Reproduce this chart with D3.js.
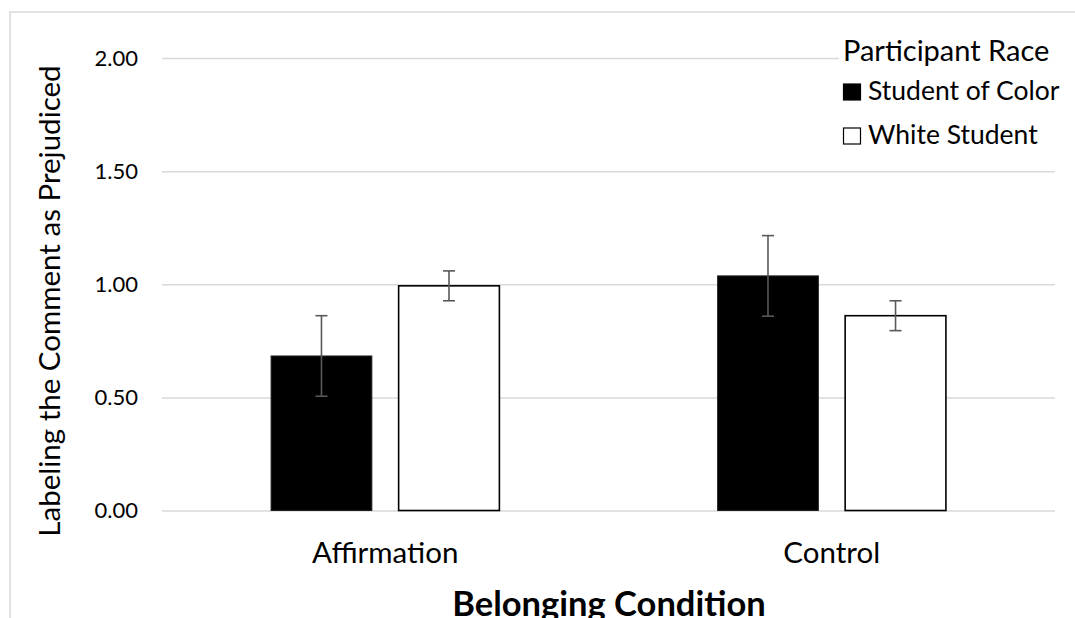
<!DOCTYPE html>
<html>
<head>
<meta charset="utf-8">
<script src="https://cdn.jsdelivr.net/npm/d3@7"></script>
<style>
  body { margin: 0; background: #fff; }
  svg { display: block; font-family: Lato, "Open Sans", sans-serif; }
</style>
</head>
<body>
<svg width="1075" height="618"></svg>
<script>
var categories = ["Affirmation", "Control"];
var seriesNames = ["Student of Color", "White Student"];
var colorMeans = [0.683, 1.037];
var colorErrors = [0.178, 0.178];
var whiteMeans = [0.993, 0.861];
var whiteErrors = [0.066, 0.066];
var yTicks = [0, 0.5, 1, 1.5, 2];

var rows = categories.map(function (c, i) {
  return {
    cat: c,
    vals: [
      {series: seriesNames[0], mean: colorMeans[i], err: colorErrors[i]},
      {series: seriesNames[1], mean: whiteMeans[i], err: whiteErrors[i]}
    ]
  };
});

var svg = d3.select("svg"),
    plotLeft = 162, plotRight = 1055, plotTop = 58, plotBottom = 510.5;

// outer frame (only top/left visible in the crop)
svg.append("rect")
    .attr("x", 10).attr("y", 12)
    .attr("width", 1100).attr("height", 700)
    .attr("fill", "none")
    .attr("stroke", "#d9d9d9")
    .attr("stroke-width", 1.5);

var x0 = d3.scaleBand().domain(categories).range([plotLeft, plotRight])
    .paddingInner(0.4887).paddingOuter(0.2443);
var x1 = d3.scaleBand().domain(seriesNames).range([0, x0.bandwidth()])
    .paddingInner(0.21);
var y = d3.scaleLinear().domain([0, 2]).range([plotBottom, plotTop]);
var fill = d3.scaleOrdinal().domain(seriesNames).range(["#000", "#fff"]);

// y axis + gridlines
var yAxis = svg.append("g")
    .attr("transform", "translate(" + plotLeft + ",0)")
    .call(d3.axisLeft(y).tickValues(yTicks)
      .tickSize(-(plotRight - plotLeft)).tickPadding(24)
      .tickFormat(d3.format(".2f")));
yAxis.select(".domain").remove();
yAxis.selectAll("line").attr("stroke", "#d9d9d9").attr("stroke-width", 1.5);
yAxis.selectAll("text")
    .attr("fill", "#000")
    .style("font-family", "Lato, sans-serif")
    .style("font-size", "22px");

// x axis labels
var xAxis = svg.append("g")
    .attr("transform", "translate(0," + plotBottom + ")")
    .call(d3.axisBottom(x0).tickSize(0).tickPadding(0));
xAxis.select(".domain").remove();
xAxis.selectAll("text")
    .attr("y", 52).attr("dy", 0)
    .attr("fill", "#000")
    .style("font-family", "Lato, sans-serif")
    .style("font-size", "29.5px");

// bars
var groups = svg.selectAll(".grp")
  .data(rows)
  .enter().append("g")
    .attr("class", "grp")
    .attr("transform", function (d) { return "translate(" + x0(d.cat) + ",0)"; });

groups.selectAll("rect")
  .data(function (d) { return d.vals; })
  .enter().append("rect")
    .attr("x", function (d) { return x1(d.series); })
    .attr("y", function (d) { return y(d.mean); })
    .attr("width", x1.bandwidth())
    .attr("height", function (d) { return y(0) - y(d.mean); })
    .attr("fill", function (d) { return fill(d.series); })
    .attr("stroke", function (d) { return d.series === seriesNames[0] ? "#222" : "#000"; })
    .attr("stroke-width", function (d) { return d.series === seriesNames[0] ? 1 : 1.6; });

// error bars
var eb = groups.selectAll(".err")
  .data(function (d) { return d.vals; })
  .enter().append("g")
    .attr("class", "err")
    .attr("stroke", "#595959")
    .attr("stroke-width", 1.6);
var cx = function (d) { return x1(d.series) + x1.bandwidth() / 2; };
eb.append("line")
    .attr("x1", cx).attr("x2", cx)
    .attr("y1", function (d) { return y(d.mean + d.err); })
    .attr("y2", function (d) { return y(d.mean - d.err); });
eb.append("line")
    .attr("x1", function (d) { return cx(d) - 6; })
    .attr("x2", function (d) { return cx(d) + 6; })
    .attr("y1", function (d) { return y(d.mean + d.err); })
    .attr("y2", function (d) { return y(d.mean + d.err); });
eb.append("line")
    .attr("x1", function (d) { return cx(d) - 6; })
    .attr("x2", function (d) { return cx(d) + 6; })
    .attr("y1", function (d) { return y(d.mean - d.err); })
    .attr("y2", function (d) { return y(d.mean - d.err); });

// axis titles
svg.append("text")
    .attr("transform", "translate(60," + 301 + ") rotate(-90)")
    .attr("text-anchor", "middle")
    .style("font-size", "29.5px")
    .text("Labeling the Comment as Prejudiced");

svg.append("text")
    .attr("x", 609).attr("y", 616)
    .attr("text-anchor", "middle")
    .style("font-size", "34.5px")
    .style("font-weight", "bold")
    .text("Belonging Condition");

// legend
var legend = svg.append("g").attr("transform", "translate(843,0)");
legend.append("rect")
    .attr("x", -4).attr("y", 28).attr("width", 225).attr("height", 125)
    .attr("fill", "#fff");
legend.append("text")
    .attr("x", 0).attr("y", 60.5)
    .style("font-size", "29px")
    .text("Participant Race");
var li = legend.selectAll(".li")
  .data(seriesNames)
  .enter().append("g")
    .attr("class", "li")
    .attr("transform", function (d, i) { return "translate(0," + (100 + i * 44) + ")"; });
li.append("rect")
    .attr("x", 0.5).attr("y", -16).attr("width", 17).attr("height", 16)
    .attr("fill", function (d) { return fill(d); })
    .attr("stroke", "#000").attr("stroke-width", 1.2);
li.append("text")
    .attr("x", 25).attr("y", 0)
    .style("font-size", "26.5px")
    .text(function (d) { return d; });
</script>
</body>
</html>
